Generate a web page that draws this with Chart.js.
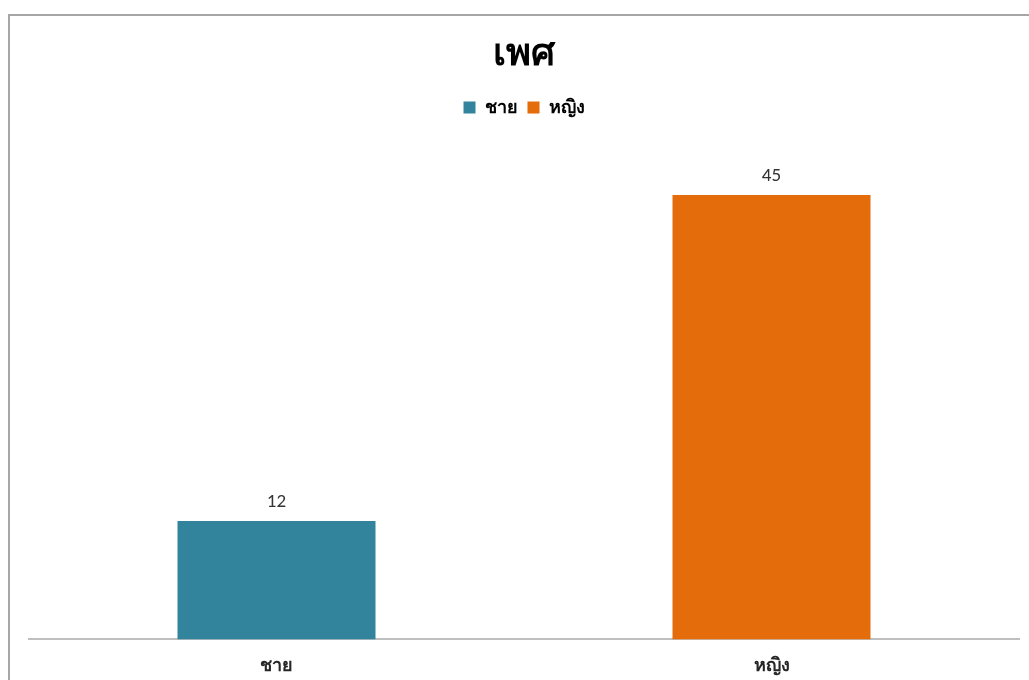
<!DOCTYPE html>
<html>
<head>
<meta charset="utf-8">
<script src="https://cdn.jsdelivr.net/npm/chart.js@4"></script>
<style>
  html, body { margin: 0; padding: 0; background: #fff; }
  body { width: 1029px; height: 680px; overflow: hidden; position: relative; }
  .frame {
    position: absolute; left: 8px; top: 14px;
    width: 1019px; height: 680px;
    border-left: 2px solid #a6a6a6; border-top: 2px solid #a6a6a6;
  }
  canvas { display: block; }
</style>
</head>
<body>
<div class="frame"><canvas id="genderChart" width="1019" height="675"></canvas></div>
<script>
// เพศ – จำนวนผู้ตอบแบบสอบถาม
const chartTitle = 'เพศ';
const categories = ['ชาย', 'หญิง'];
const counts = [12, 45];
const barColors = ['#31849B', '#E46C0A'];
const yMax = 50;

const thaiFont = 'Tahoma, "Noto Sans", "DejaVu Sans", sans-serif';

// ตัวเลขบนหัวแท่ง
const valueLabels = {
  id: 'valueLabels',
  afterDatasetsDraw(chart) {
    const ctx = chart.ctx;
    const meta = chart.getDatasetMeta(0);
    ctx.save();
    ctx.font = '19px Calibri, Carlito, "Open Sans", sans-serif';
    ctx.fillStyle = '#333333';
    ctx.textAlign = 'center';
    ctx.textBaseline = 'bottom';
    meta.data.forEach((bar, i) => {
      ctx.fillText(String(counts[i]), bar.x, bar.y - 9);
    });
    ctx.restore();
  }
};

// เว้นระยะใต้คำอธิบายสัญลักษณ์
const legendGap = {
  id: 'legendGap',
  beforeInit(chart) {
    const fit = chart.legend.fit;
    chart.legend.fit = function () {
      fit.call(this);
      this.height += 19;
    };
  }
};

new Chart(document.getElementById('genderChart'), {
  type: 'bar',
  data: {
    labels: categories,
    datasets: [{
      label: chartTitle,
      data: counts,
      backgroundColor: barColors,
      borderWidth: 0,
      categoryPercentage: 1,
      barPercentage: 0.4
    }]
  },
  options: {
    responsive: false,
    animation: false,
    layout: { padding: { left: 19, right: 10, top: 0, bottom: 6 } },
    plugins: {
      title: {
        display: true,
        text: chartTitle,
        color: '#000',
        font: { family: thaiFont, size: 38, weight: 'bold' },
        padding: { top: 15, bottom: 12 }
      },
      legend: {
        display: true,
        position: 'top',
        labels: {
          boxWidth: 12,
          boxHeight: 12,
          padding: 10,
          color: '#262626',
          font: { family: thaiFont, size: 18, weight: '600' },
          generateLabels: () => categories.map((c, i) => ({
            text: c,
            fillStyle: barColors[i],
            strokeStyle: barColors[i],
            lineWidth: 0,
            index: i
          }))
        }
      },
      tooltip: { enabled: false }
    },
    scales: {
      x: {
        grid: { display: false },
        border: { display: true, color: '#bfbfbf', width: 2 },
        ticks: {
          color: '#262626',
          padding: 8,
          font: { family: thaiFont, size: 18, weight: '600' }
        }
      },
      y: {
        display: false,
        min: 0,
        max: yMax
      }
    }
  },
  plugins: [legendGap, valueLabels]
});
</script>
</body>
</html>
